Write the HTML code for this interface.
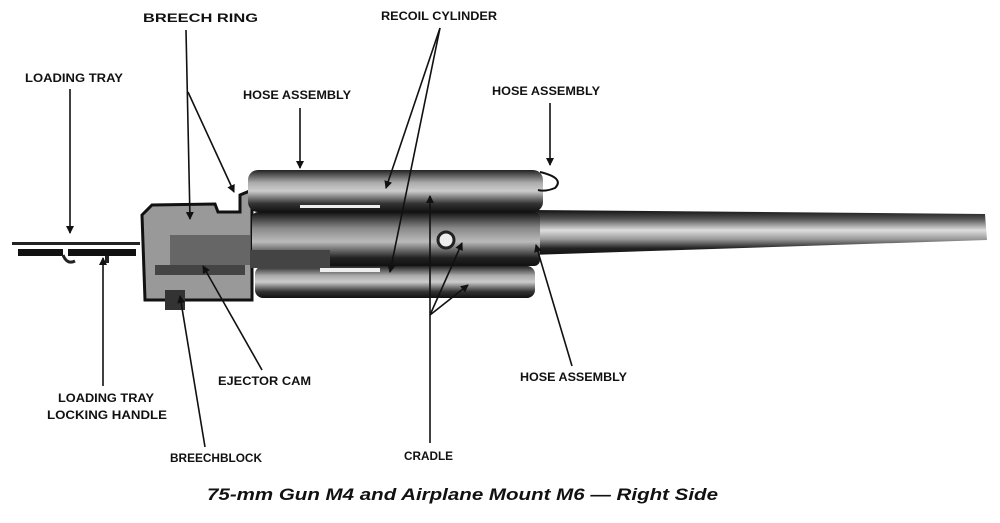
<!DOCTYPE html>
<html><head><meta charset="utf-8"><style>
html,body{margin:0;padding:0;background:#fff;}
svg{display:block}
text{font-family:"Liberation Sans",sans-serif;font-weight:bold;font-size:12px;fill:#111;}
</style></head><body>
<svg width="1000" height="523" viewBox="0 0 1000 523" xmlns="http://www.w3.org/2000/svg">
<defs>
<linearGradient id="bar" x1="0" y1="0" x2="0" y2="1">
<stop offset="0" stop-color="#111"/><stop offset="0.2" stop-color="#555"/><stop offset="0.45" stop-color="#ddd"/><stop offset="0.65" stop-color="#999"/><stop offset="0.85" stop-color="#222"/><stop offset="1" stop-color="#111"/>
</linearGradient>
<linearGradient id="cyl" x1="0" y1="0" x2="0" y2="1">
<stop offset="0" stop-color="#222"/><stop offset="0.3" stop-color="#aaa"/><stop offset="0.5" stop-color="#ccc"/><stop offset="0.8" stop-color="#333"/><stop offset="1" stop-color="#111"/>
</linearGradient>
<linearGradient id="mid" x1="0" y1="0" x2="0" y2="1">
<stop offset="0" stop-color="#111"/><stop offset="0.3" stop-color="#888"/><stop offset="0.55" stop-color="#bbb"/><stop offset="0.85" stop-color="#222"/><stop offset="1" stop-color="#111"/>
</linearGradient>
<marker id="ar" markerWidth="8" markerHeight="8" refX="7" refY="4" orient="auto" markerUnits="userSpaceOnUse"><path d="M0,0 L8,4 L0,8 z" fill="#111"/></marker>
</defs>
<path d="M530,210 L985,214 L987,240 L530,255 Z" fill="url(#bar)"/>
<rect x="12" y="242" width="128" height="3" fill="#222"/>
<rect x="18" y="249" width="45" height="7" fill="#111"/>
<rect x="68" y="249" width="68" height="7" fill="#111"/>
<path d="M63,255 q4,10 12,6" stroke="#222" stroke-width="3" fill="none"/>
<rect x="105" y="256" width="4" height="7" fill="#222"/>
<path d="M142,215 L152,205 L215,204 L218,212 L240,212 L240,195 L252,190 L252,300 L160,300 L145,300 Z" fill="#999" stroke="#111" stroke-width="3"/>
<rect x="170" y="235" width="80" height="30" fill="#666"/>
<rect x="155" y="265" width="90" height="10" fill="#444"/>
<rect x="165" y="290" width="20" height="20" fill="#333"/>
<rect x="252" y="212" width="288" height="54" rx="6" fill="url(#mid)"/>
<circle cx="446" cy="240" r="8" fill="#eee" stroke="#222" stroke-width="3"/>
<rect x="248" y="170" width="295" height="42" rx="10" fill="url(#cyl)"/>
<rect x="300" y="205" width="80" height="3" fill="#eee"/>
<rect x="255" y="266" width="280" height="32" rx="8" fill="url(#cyl)"/>
<rect x="320" y="268" width="60" height="4" fill="#eee"/>
<path d="M250,250 L330,250 L330,268 L250,268 Z" fill="#444"/>
<path d="M540,172 Q565,178 555,188 Q545,192 538,190" stroke="#111" stroke-width="2" fill="none"/>
<g stroke="#111" stroke-width="1.6" fill="none" marker-end="url(#ar)">
<line x1="186" y1="30" x2="190" y2="219"/>
<line x1="188" y1="92" x2="234" y2="192"/>
<line x1="70" y1="89" x2="70" y2="233"/>
<line x1="300" y1="108" x2="300" y2="168"/>
<line x1="440" y1="28" x2="386" y2="188"/>
<line x1="440" y1="28" x2="390" y2="272"/>
<line x1="550" y1="103" x2="550" y2="165"/>
<line x1="103" y1="386" x2="103" y2="258"/>
<line x1="262" y1="370" x2="203" y2="266"/>
<line x1="205" y1="447" x2="180" y2="296"/>
<line x1="430" y1="443" x2="430" y2="196"/>
<line x1="430" y1="315" x2="462" y2="243"/>
<line x1="430" y1="315" x2="468" y2="285"/>
<line x1="572" y1="366" x2="536" y2="245"/>
</g>
<text x="143" y="22" textLength="115" lengthAdjust="spacingAndGlyphs">BREECH RING</text>
<text x="381" y="20" textLength="116" lengthAdjust="spacingAndGlyphs">RECOIL CYLINDER</text>
<text x="25" y="82" textLength="98" lengthAdjust="spacingAndGlyphs">LOADING TRAY</text>
<text x="243" y="99" textLength="108" lengthAdjust="spacingAndGlyphs">HOSE ASSEMBLY</text>
<text x="492" y="95" textLength="108" lengthAdjust="spacingAndGlyphs">HOSE ASSEMBLY</text>
<text x="218" y="385" textLength="93" lengthAdjust="spacingAndGlyphs">EJECTOR CAM</text>
<text x="520" y="381" textLength="107" lengthAdjust="spacingAndGlyphs">HOSE ASSEMBLY</text>
<text x="58" y="402" textLength="96" lengthAdjust="spacingAndGlyphs">LOADING TRAY</text>
<text x="47" y="419" textLength="120" lengthAdjust="spacingAndGlyphs">LOCKING HANDLE</text>
<text x="170" y="462" textLength="92" lengthAdjust="spacingAndGlyphs">BREECHBLOCK</text>
<text x="404" y="460" textLength="49" lengthAdjust="spacingAndGlyphs">CRADLE</text>
<text x="207" y="500" textLength="511" lengthAdjust="spacingAndGlyphs" style="font-size:17px;font-style:italic">75-mm Gun M4 and Airplane Mount M6 — Right Side</text>
</svg>
</body></html>
